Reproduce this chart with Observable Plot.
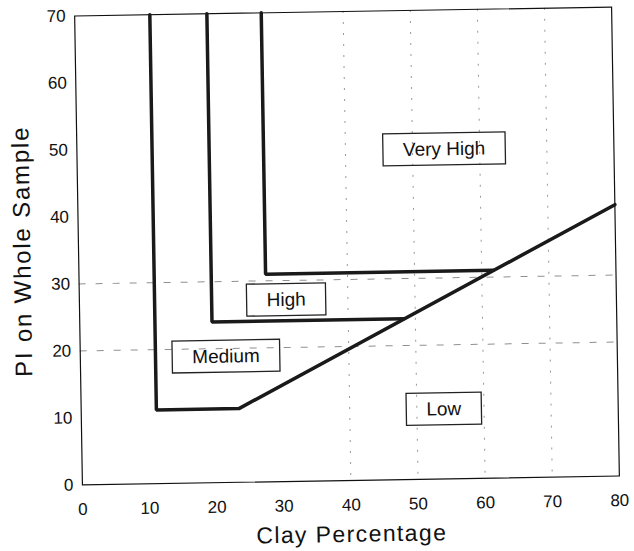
<!DOCTYPE html>
<html>
<head>
<meta charset="utf-8">
<script src="https://cdn.jsdelivr.net/npm/d3@7"></script>
<script src="https://cdn.jsdelivr.net/npm/@observablehq/plot@0.6"></script>
<style>
  body { margin: 0; background: #fff; }
  #chart svg { display: block; transform: rotate(-0.95deg); transform-origin: 346px 245.5px; }
</style>
</head>
<body>
<div id="chart"></div>
<script>
// Axis ticks
const xTicks = [0, 10, 20, 30, 40, 50, 60, 70, 80];
const yTicks = [0, 10, 20, 30, 40, 50, 60, 70];

// Boundary lines (Clay %, PI)
const mediumClay = [11.2, 11.2, 23.5, 80];
const mediumPI   = [70, 11, 11, 40.5];
const highClay   = [19.7, 19.7, 48.3];
const highPI     = [70, 24, 24];
const veryHighClay = [27.8, 27.8, 61.7];
const veryHighPI   = [70, 31, 31];

// Zone labels
const zoneNames = ["Very High", "High", "Medium", "Low"];
const zoneClay  = [54.7, 30.8, 21.7, 54.0];
const zonePI    = [49.2, 27.1, 18.8, 10.4];

// Gridlines
const gridClay = [40, 50, 60, 70];
const gridPI   = [20, 30];

// Axis titles
const xTitle = "Clay Percentage";
const yTitle = "PI on Whole Sample";

const toPts = (xs, ys) => xs.map((c, i) => ({clay: c, pi: ys[i]}));
const zones = zoneNames.map((n, i) => ({name: n, clay: zoneClay[i], pi: zonePI[i]}));
const lineStyle = {x: "clay", y: "pi", stroke: "#1a1a1a", strokeWidth: 3.5, strokeLinejoin: "miter"};

const svg = Plot.plot({
  width: 634,
  height: 551,
  marginLeft: 78,
  marginRight: 19,
  marginTop: 11,
  marginBottom: 71,
  style: {fontFamily: "'Liberation Sans', Arial, sans-serif", fontSize: "17px", color: "#111", background: "#fff"},
  x: {domain: [0, 80], ticks: xTicks, tickSize: 0, tickPadding: 18, label: null},
  y: {domain: [0, 70], ticks: yTicks, tickSize: 0, tickPadding: 9, label: null},
  marks: [
    Plot.ruleX(gridClay, {stroke: "#333", strokeOpacity: 0.5, strokeDasharray: "2,9"}),
    Plot.ruleY(gridPI, {stroke: "#333", strokeOpacity: 0.55, strokeDasharray: "7,10"}),
    Plot.frame({stroke: "#111", strokeWidth: 1.2}),
    Plot.line(toPts(mediumClay, mediumPI), lineStyle),
    Plot.line(toPts(highClay, highPI), lineStyle),
    Plot.line(toPts(veryHighClay, veryHighPI), lineStyle),
    Plot.text(zones, {x: "clay", y: "pi", text: "name", fontSize: 19, fill: "#111"}),
    Plot.text([xTitle], {frameAnchor: "bottom", textAnchor: "middle", lineAnchor: "middle", dy: 54, fontSize: 23, fill: "#111"}),
    Plot.text([yTitle], {frameAnchor: "left", textAnchor: "middle", lineAnchor: "middle", dx: -56, rotate: -90, fontSize: 24, fill: "#111"})
  ]
});

document.getElementById("chart").append(svg);

const svgNS = "http://www.w3.org/2000/svg";
svg.querySelectorAll("text").forEach(t => {
  const s = t.textContent;
  if (s === xTitle) t.style.letterSpacing = "1.4px";
  if (s === yTitle) t.style.letterSpacing = "1.8px";
  if (zoneNames.includes(s)) {
    const b = t.getBBox();
    const r = document.createElementNS(svgNS, "rect");
    r.setAttribute("x", b.x - 20);
    r.setAttribute("y", b.y - 5.5);
    r.setAttribute("width", b.width + 40);
    r.setAttribute("height", b.height + 11);
    r.setAttribute("fill", "none");
    r.setAttribute("stroke", "#222");
    r.setAttribute("stroke-width", 1.3);
    const tr = t.getAttribute("transform");
    if (tr) r.setAttribute("transform", tr);
    t.parentNode.insertBefore(r, t);
  }
});
</script>
</body>
</html>
